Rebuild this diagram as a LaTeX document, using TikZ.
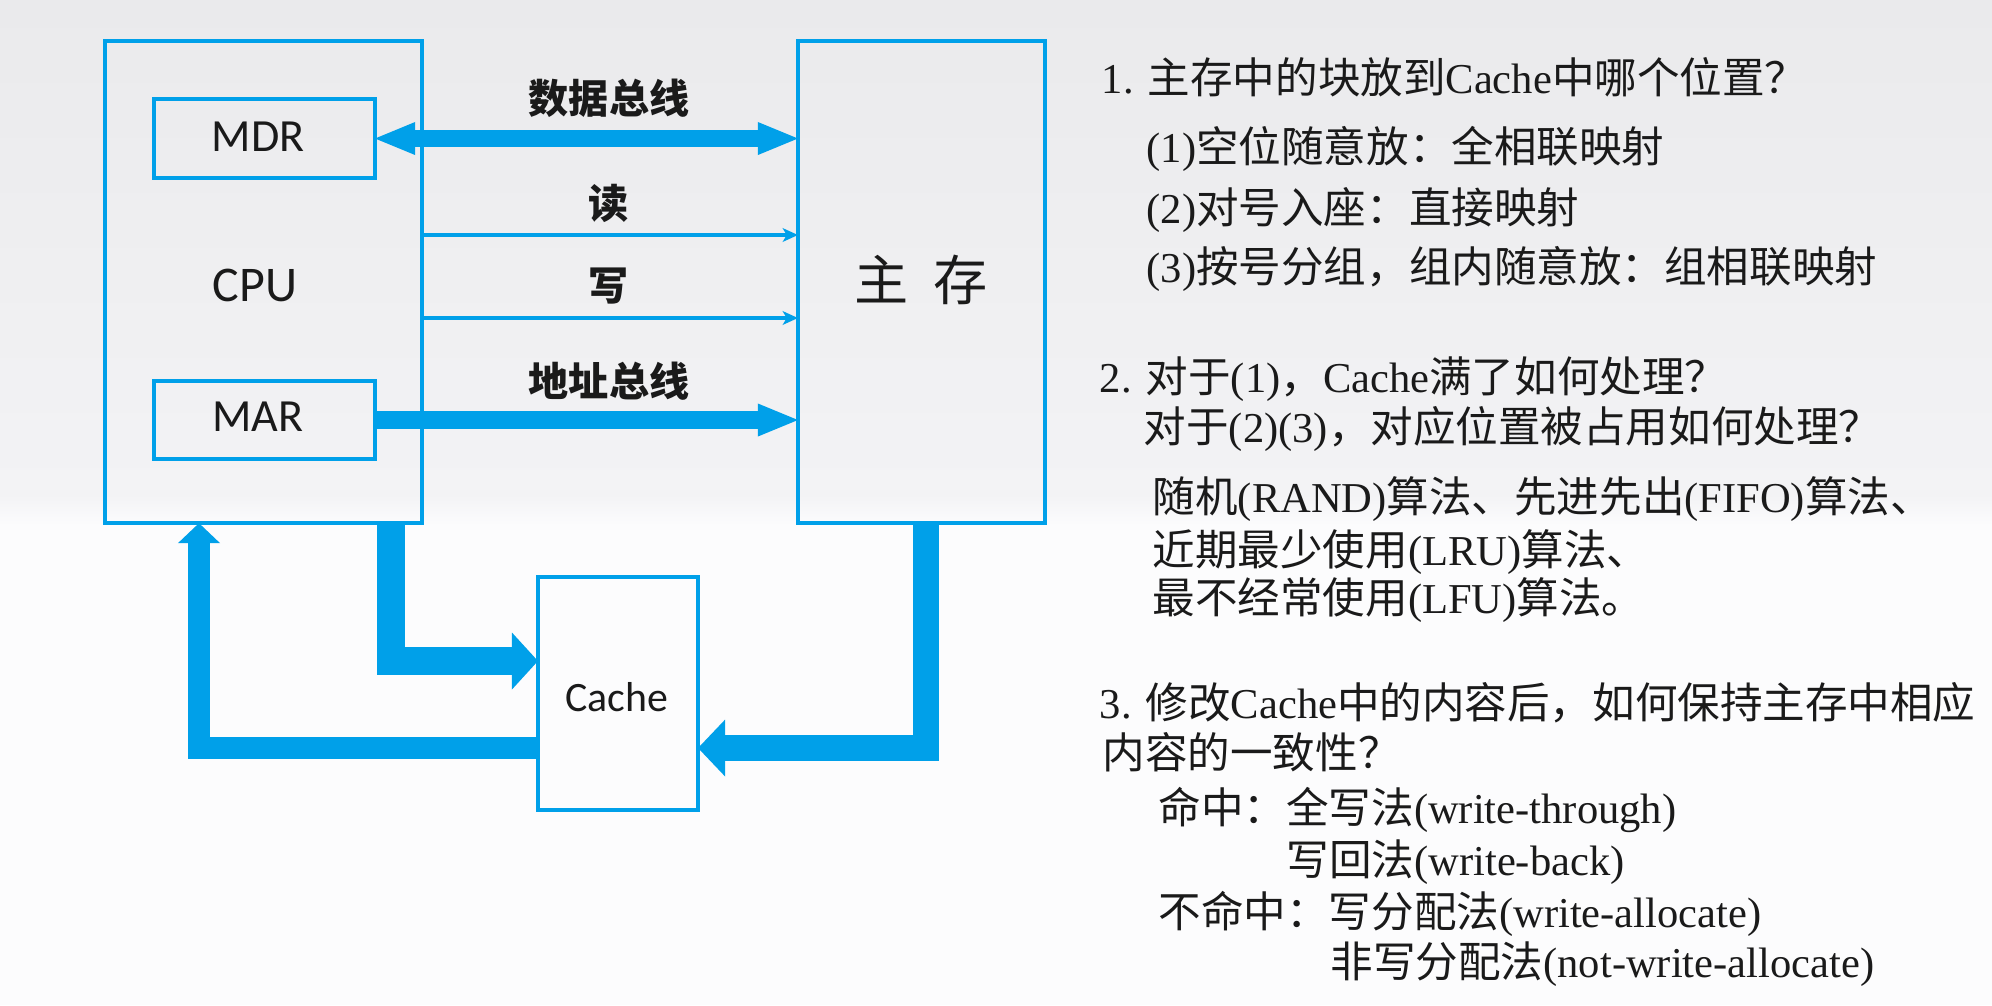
\documentclass[tikz,border=0pt]{standalone}
\usepackage{fontspec}
\setmainfont{Liberation Serif}
\newfontfamily\cjkfont{Noto Sans CJK SC}
\newfontfamily\labelfont{Carlito}
\usetikzlibrary{arrows.meta,calc}

% Automatic switching between the Latin and the CJK font
\newXeTeXintercharclass\cjkclass
\newcount\cjkcount
\newcommand\classrange[3]{%
  \cjkcount=#1\relax
  \loop
    \XeTeXcharclass\cjkcount=#3\relax
    \advance\cjkcount by 1
  \ifnum\cjkcount<#2\relax
  \repeat}
\classrange{0}{256}{0}
\classrange{"3000}{"3040}{\cjkclass}
\classrange{"4E00}{"A000}{\cjkclass}
\classrange{"FF00}{"FFF0}{\cjkclass}
\XeTeXinterchartoks 0 \cjkclass = {\cjkfont}
\XeTeXinterchartoks 4095 \cjkclass = {\cjkfont}
\XeTeXinterchartoks \cjkclass 0 = {\rmfamily}
\XeTeXinterchartoks \cjkclass 4095 = {\rmfamily}
\XeTeXinterchartokenstate=1

\definecolor{busblue}{RGB}{0,160,233}
\definecolor{bgtop}{RGB}{234,234,236}
\definecolor{bgmid}{RGB}{243,243,245}
\definecolor{bglow}{RGB}{252,252,253}
\definecolor{ink}{RGB}{26,26,26}

\begin{document}
\begin{tikzpicture}[x=0.01cm,y=-0.01cm,
  unit/.style={draw=busblue, line width=1.14pt, inner sep=0pt, outer sep=0pt, fill=none},
  lbl/.style={inner sep=0pt, text=ink},
  buslbl/.style={lbl, font=\bfseries\fontsize{11.4pt}{13pt}\selectfont},
  bus/.style={draw=busblue, line width=5pt},
  ctl/.style={draw=busblue, line width=1.14pt,
    arrows={-Stealth[length=4.4pt,width=4pt,inset=1.2pt,line width=0pt]}},
  fat/.style={draw=busblue, line width=#1},
  rtext/.style={anchor=base west, inner sep=0pt, text=ink,
    font=\fontsize{12.1pt}{14.5pt}\selectfont}]

% page and background
\useasboundingbox (0,0) rectangle (1992,1005);
\fill[bglow] (0,0) rectangle (1992,1005);
\shade[top color=bgtop, bottom color=bgmid] (0,0) rectangle (1992,495);
\shade[top color=bgmid, bottom color=bglow] (0,495) rectangle (1992,525);

% units
\node[unit, minimum width=3.17cm, minimum height=4.82cm] (cpu) at (263.5,282) {};
\node[unit, minimum width=2.21cm, minimum height=0.79cm] (mdr) at (264.5,138.5) {};
\node[unit, minimum width=2.21cm, minimum height=0.78cm] (mar) at (264.5,420) {};
\node[unit, minimum width=2.47cm, minimum height=4.82cm] (mem) at (921.5,282) {};
\node[unit, minimum width=1.60cm, minimum height=2.33cm] (cache) at (618,693.5) {};

\node[lbl, font=\labelfont\fontsize{14.2pt}{17pt}\selectfont] (cputxt) at (255,285) {CPU};
\node[lbl, font=\labelfont\fontsize{13.1pt}{16pt}\selectfont] (mdrtxt) at (258,137) {MDR};
\node[lbl, font=\labelfont\fontsize{13.1pt}{16pt}\selectfont] (martxt) at (258,417) {MAR};
\node[lbl, font=\fontsize{15.4pt}{18pt}\selectfont] (memtxt) at (921.5,280) {主\hspace{0.46em}存};
\node[lbl, font=\labelfont\fontsize{11.9pt}{14pt}\selectfont] (cachetxt) at (617,697) {Cache};

% bus labels
\node[buslbl] (dbus) at (609,98) {数据总线};
\node[buslbl] (rdl) at (609,203) {读};
\node[buslbl] (wrl) at (609,286) {写};
\node[buslbl] (abus) at (609,381) {地址总线};

% levels of the control lines and the Cache paths
\coordinate (yrd) at (0,235);
\coordinate (ywr) at (0,318);
\coordinate (xin) at (391,0);
\coordinate (yin) at (0,661);
\coordinate (xout) at (925.5,0);
\coordinate (yloop) at (0,748);
\coordinate (xback) at (199,0);

% buses
\draw[bus, arrows={Triangle[length=11.4pt,width=9.4pt,line width=0pt]-Triangle[length=11.4pt,width=9.4pt,line width=0pt]}]
  (mdr.east) -- (mdr.east -| mem.west);
\draw[ctl] (cpu.east |- yrd) -- (mem.west |- yrd);
\draw[ctl] (cpu.east |- ywr) -- (mem.west |- ywr);
\draw[bus, arrows={-Triangle[length=11.4pt,width=9.4pt,line width=0pt]}]
  (mar.east) -- (mar.east -| mem.west);

% Cache paths
\draw[fat=7.7pt, arrows={-Triangle[length=7.4pt,width=16.2pt,line width=0pt]}]
  (cpu.south -| xin) |- (cache.west |- yin);
\draw[fat=7.4pt, arrows={-Triangle[length=7.7pt,width=16.2pt,line width=0pt]}]
  (mem.south -| xout) |- (cache.east |- yloop);
\draw[fat=6pt, arrows={-Triangle[length=5.7pt,width=12pt,line width=0pt]}]
  (cache.west |- yloop) -| (cpu.south -| xback);

% questions and answers
\node[rtext] (t1) at (1101,93) {1. 主存中的块放到Cache中哪个位置？};
\node[rtext] (t2) at (1146,162) {(1)空位随意放：全相联映射};
\node[rtext] (t3) at (1146,223) {(2)对号入座：直接映射};
\node[rtext] (t4) at (1146,282) {(3)按号分组，组内随意放：组相联映射};
\node[rtext] (t5) at (1099,392) {2. 对于(1)，Cache满了如何处理？};
\node[rtext] (t6) at (1143,442) {对于(2)(3)，对应位置被占用如何处理？};
\node[rtext] (t7) at (1152,512) {随机(RAND)算法、先进先出(FIFO)算法、};
\node[rtext] (t8) at (1152,565) {近期最少使用(LRU)算法、};
\node[rtext] (t9) at (1152,613) {最不经常使用(LFU)算法。};
\node[rtext] (t10) at (1099,718) {3. 修改Cache中的内容后，如何保持主存中相应};
\node[rtext] (t11) at (1102,768) {内容的一致性？};
\node[rtext] (t12) at (1158,823) {命中：全写法(write-through)};
\node[rtext] (t13) at (1286,875) {写回法(write-back)};
\node[rtext] (t14) at (1158,927) {不命中：写分配法(write-allocate)};
\node[rtext] (t15) at (1330,977) {非写分配法(not-write-allocate)};
\end{tikzpicture}
\end{document}
